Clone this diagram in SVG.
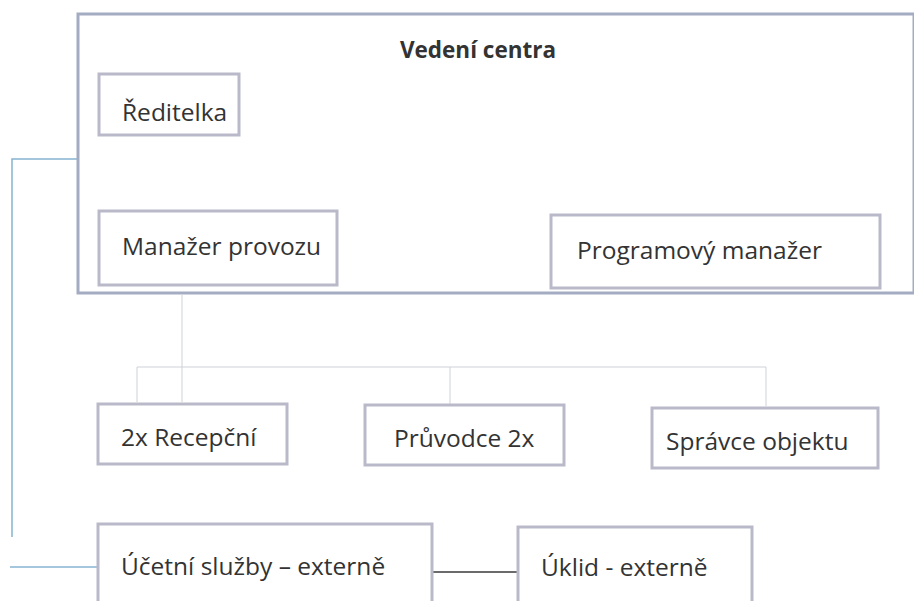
<svg xmlns="http://www.w3.org/2000/svg" width="914" height="601" viewBox="0 0 914 601">
<style>
.outer{fill:none;stroke:#a3acc2;stroke-width:3}
.box{fill:#fff;stroke:#b9b9c9;stroke-width:3}
.t{font-family:"Open Sans","Noto Sans","Liberation Sans",sans-serif;font-size:24.5px;fill:#333}
.tb{font-family:"Open Sans","Noto Sans","Liberation Sans",sans-serif;font-size:22.5px;font-weight:bold;fill:#333;text-anchor:middle}
.gray{fill:none;stroke:#cfd1d8;stroke-width:1}
.blue{fill:none;stroke:#86b4d2;stroke-width:1.5}
.dark{fill:none;stroke:#3a3a3a;stroke-width:1.5}
</style>
<rect width="914" height="601" fill="#fff"/>
<g id="connectors">
<polyline class="blue" points="78,159 12,159 12,537"/>
<line class="blue" x1="10" y1="567" x2="98" y2="567"/>
<line class="gray" x1="182" y1="295" x2="182" y2="402"/>
<polyline class="gray" points="137,402 137,367 766,367 766,406"/>
<line class="gray" x1="450" y1="367" x2="450" y2="404"/>
<line class="dark" x1="432" y1="572" x2="517" y2="572"/>
</g>
<g id="vedeni-centra">
<rect class="outer" x="78" y="14" width="836" height="279"/>
<text class="tb" x="478" y="58">Vedení centra</text>
</g>
<g id="reditelka">
<rect class="box" x="99" y="74" width="140" height="61"/>
<text class="t" x="122" y="121">Ředitelka</text>
</g>
<g id="manazer-provozu">
<rect class="box" x="99" y="211" width="238" height="74"/>
<text class="t" x="122" y="255">Manažer provozu</text>
</g>
<g id="programovy-manazer">
<rect class="box" x="551" y="215" width="329" height="73"/>
<text class="t" x="577" y="259">Programový manažer</text>
</g>
<g id="recepcni">
<rect class="box" x="98" y="404" width="189" height="60"/>
<text class="t" x="121" y="446">2x Recepční</text>
</g>
<g id="pruvodce">
<rect class="box" x="365" y="405" width="199" height="60"/>
<text class="t" x="394" y="447">Průvodce 2x</text>
</g>
<g id="spravce">
<rect class="box" x="652" y="408" width="226" height="60"/>
<text class="t" x="666" y="450">Správce objektu</text>
</g>
<g id="ucetni">
<rect class="box" x="98" y="524" width="334" height="90"/>
<text class="t" x="121" y="575">Účetní služby – externě</text>
</g>
<g id="uklid">
<rect class="box" x="518" y="527" width="234" height="90"/>
<text class="t" x="541" y="576">Úklid - externě</text>
</g>
</svg>
